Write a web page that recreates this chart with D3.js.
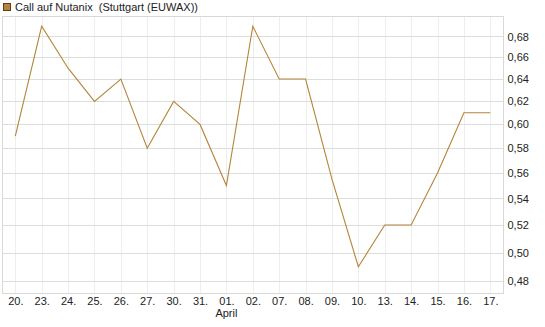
<!DOCTYPE html>
<html><head><meta charset="utf-8">
<script src="https://cdn.jsdelivr.net/npm/d3@7"></script>
<style>body{margin:0;background:#fff;}svg{display:block;font-family:"Liberation Sans",Arial,sans-serif;}</style>
</head><body><svg id="c" width="545" height="327"></svg>
<script>
const title = "Call auf Nutanix  (Stuttgart (EUWAX))";
const dates = ["20.","23.","24.","25.","26.","27.","30.","31.","01.","02.","07.","08.","09.","10.","13.","14.","15.","16.","17."];
const values = [0.59,0.69,0.65,0.62,0.64,0.58,0.62,0.60,0.55,0.69,0.64,0.64,0.555,0.49,0.52,0.52,0.56,0.61,0.61];
const yTicks = [0.48,0.50,0.52,0.54,0.56,0.58,0.60,0.62,0.64,0.66,0.68];
const monthLabel = {index: 8, text: "April"};

const svg = d3.select("#c");
const L = 2.5, R = 503.5, T = 16.5, B = 293.5;
const x = d3.scalePoint().domain(d3.range(dates.length)).range([15.3, 490.3]);
const y = d3.scaleLog().domain([0.4717, 0.6996]).range([B, T]);
const fmt = v => d3.format(".2f")(v).replace(".", ",");

// grid
const g = svg.append("g");
g.selectAll(".vg").data(d3.range(dates.length)).join("line")
  .attr("x1", d => Math.round(x(d)) + 0.5).attr("x2", d => Math.round(x(d)) + 0.5)
  .attr("y1", T).attr("y2", B).attr("stroke", "#eeeeee");
g.selectAll(".hg").data(yTicks).join("line")
  .attr("x1", L).attr("x2", R)
  .attr("y1", d => Math.round(y(d)) + 0.5).attr("y2", d => Math.round(y(d)) + 0.5)
  .attr("stroke", "#dddddd");
// frame
svg.append("rect").attr("x", L).attr("y", T).attr("width", R - L).attr("height", B - T)
  .attr("fill", "none").attr("stroke", "#d8d8d8");

// axes
const yAxis = d3.axisRight(y).tickValues(yTicks).tickFormat(fmt).tickSize(0).tickPadding(4);
const ya = svg.append("g").attr("transform", `translate(${R},0)`).call(yAxis);
ya.select(".domain").remove();
ya.selectAll("text").attr("font-size", 11).attr("fill", "#222").attr("font-family", "Liberation Sans, Arial, sans-serif");

const xAxis = d3.axisBottom(x).tickFormat(i => dates[i]).tickSize(0).tickPadding(4);
const xa = svg.append("g").attr("transform", `translate(0,${B})`).call(xAxis);
xa.select(".domain").remove();
xa.selectAll("text").attr("font-size", 11).attr("fill", "#222").attr("font-family", "Liberation Sans, Arial, sans-serif");

svg.append("text").attr("x", x(monthLabel.index)).attr("y", 317)
  .attr("text-anchor", "middle").attr("font-size", 11).attr("fill", "#222").text(monthLabel.text);

// line
const line = d3.line().x((d, i) => x(i)).y(d => y(d));
svg.append("path").datum(values).attr("d", line)
  .attr("fill", "none").attr("stroke", "#b5843a").attr("stroke-width", 1.1);

// legend
svg.append("rect").attr("x", 3.5).attr("y", 3.5).attr("width", 7).attr("height", 7)
  .attr("fill", "#b5843a").attr("stroke", "#5a4020");
svg.append("text").attr("x", 15).attr("y", 11).attr("font-size", 11).attr("fill", "#222")
  .style("white-space", "pre").text(title);
</script></body></html>
